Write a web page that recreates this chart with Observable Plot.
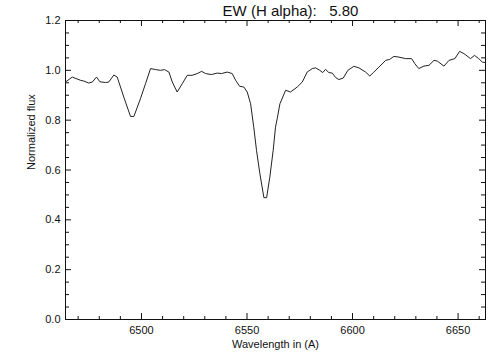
<!DOCTYPE html>
<html>
<head>
<meta charset="utf-8">
<script src="https://cdn.jsdelivr.net/npm/d3@7"></script>
<script src="https://cdn.jsdelivr.net/npm/@observablehq/plot@0.6"></script>
<style>
  html, body { margin: 0; padding: 0; background: #fff; }
  svg text { white-space: pre; }
</style>
</head>
<body>
<div id="chart"></div>
<script>
const wavelength = [6464.0, 6467.2, 6471.1, 6472.7, 6475.0, 6476.7, 6478.7, 6480.3, 6483.0, 6484.5,
  6486.9, 6488.5, 6491.6, 6494.8, 6496.4, 6499.5, 6501.9, 6504.3, 6506.7, 6509.0,
  6510.9, 6513.0, 6514.6, 6516.9, 6519.3, 6521.7, 6524.0, 6526.4, 6528.5, 6530.4,
  6533.1, 6535.9, 6537.9, 6540.6, 6543.0, 6544.6, 6546.5, 6548.5, 6550.1, 6551.7,
  6553.2, 6554.5, 6556.1, 6558.0, 6559.3, 6560.8, 6562.4, 6563.5, 6564.3, 6565.6,
  6568.3, 6570.6, 6573.8, 6576.2, 6578.5, 6580.9, 6582.5, 6584.5, 6585.9, 6587.2,
  6588.8, 6590.4, 6592.0, 6593.5, 6595.6, 6597.8, 6600.6, 6603.0, 6606.2, 6608.2,
  6610.1, 6612.5, 6615.7, 6617.6, 6619.6, 6622.0, 6625.1, 6628.0, 6629.5, 6631.4,
  6633.8, 6636.2, 6638.6, 6640.2, 6643.3, 6645.7, 6648.5, 6650.7, 6652.8, 6655.9,
  6657.8, 6659.8, 6661.5, 6663.0];
const flux = [0.953, 0.973, 0.960, 0.957, 0.949, 0.953, 0.973, 0.954, 0.951, 0.953,
  0.981, 0.973, 0.893, 0.815, 0.815, 0.886, 0.946, 1.007, 1.003, 1.000,
  1.003, 0.993, 0.953, 0.913, 0.946, 0.980, 0.980, 0.987, 0.996, 0.987,
  0.983, 0.989, 0.987, 0.993, 0.987, 0.960, 0.936, 0.933, 0.913, 0.866,
  0.772, 0.679, 0.585, 0.489, 0.489, 0.571, 0.679, 0.772, 0.806, 0.866,
  0.920, 0.913, 0.933, 0.953, 0.993, 1.007, 1.010, 1.000, 0.991, 1.004,
  0.991, 0.989, 0.971, 0.963, 0.969, 1.000, 1.016, 1.010, 0.993, 0.977,
  0.993, 1.013, 1.040, 1.044, 1.056, 1.053, 1.047, 1.047, 1.027, 1.007,
  1.017, 1.020, 1.040, 1.037, 1.017, 1.040, 1.047, 1.076, 1.067, 1.047,
  1.060, 1.047, 1.033, 1.031];

const xMajor = [6500, 6550, 6600, 6650];
const xMinor = [6470, 6480, 6490, 6510, 6520, 6530, 6540, 6560, 6570, 6580, 6590,
  6610, 6620, 6630, 6640, 6660];
const yMajor = [0.0, 0.2, 0.4, 0.6, 0.8, 1.0, 1.2];
const yMinor = [0.05, 0.1, 0.15, 0.25, 0.3, 0.35, 0.45, 0.5, 0.55, 0.65, 0.7, 0.75,
  0.85, 0.9, 0.95, 1.05, 1.1, 1.15];
const xDomain = [6464, 6663];
const yDomain = [0, 1.2];
const titleText = "EW (H alpha):   5.80";
const xLabel = "Wavelength in (A)";
const yLabel = "Normalized flux";

const spectrum = wavelength.map((w, i) => ({w, f: flux[i]}));

const W = 504, H = 360;
const mL = 65, mR = 19, mT = 20, mB = 41;
const pw = W - mL - mR, ph = H - mT - mB;
const ink = "#111";
const font = "'Liberation Sans', Arial, Helvetica, sans-serif";

const chart = Plot.plot({
  width: W,
  height: H,
  marginLeft: mL,
  marginRight: mR,
  marginTop: mT,
  marginBottom: mB,
  style: {fontFamily: font, fontSize: "11px", color: ink, background: "#fff"},
  x: {domain: xDomain},
  y: {domain: yDomain},
  marks: [
    Plot.frame({stroke: ink, strokeWidth: 1}),
    // bottom & top ticks
    Plot.tickX(xMajor, {x: d => d, insetTop: ph - 6, stroke: ink}),
    Plot.tickX(xMinor, {x: d => d, insetTop: ph - 3, stroke: ink}),
    Plot.tickX(xMajor, {x: d => d, insetBottom: ph - 6, stroke: ink}),
    Plot.tickX(xMinor, {x: d => d, insetBottom: ph - 3, stroke: ink}),
    // left & right ticks
    Plot.tickY(yMajor, {y: d => d, insetRight: pw - 6, stroke: ink}),
    Plot.tickY(yMinor, {y: d => d, insetRight: pw - 4, stroke: ink}),
    Plot.tickY(yMajor, {y: d => d, insetLeft: pw - 6, stroke: ink}),
    Plot.tickY(yMinor, {y: d => d, insetLeft: pw - 4, stroke: ink}),
    Plot.axisX({ticks: xMajor, tickSize: 0, tickPadding: 7, tickFormat: d => String(d), label: null, fontSize: 11}),
    Plot.axisY({ticks: yMajor, tickSize: 0, tickPadding: 5, tickFormat: d => d.toFixed(1), label: null, fontSize: 11}),
    Plot.line(spectrum, {x: "w", y: "f", stroke: "#222", strokeWidth: 1}),
    Plot.text([titleText], {frameAnchor: "top", dx: 15, dy: -5, lineAnchor: "bottom", fontSize: 15, fill: ink}),
    Plot.text([xLabel], {frameAnchor: "bottom", dy: 25, lineAnchor: "middle", fontSize: 11, fill: ink}),
    Plot.text([yLabel], {frameAnchor: "left", dx: -34, rotate: -90, lineAnchor: "middle", fontSize: 11, fill: ink})
  ]
});
document.getElementById("chart").appendChild(chart);
</script>
</body>
</html>
